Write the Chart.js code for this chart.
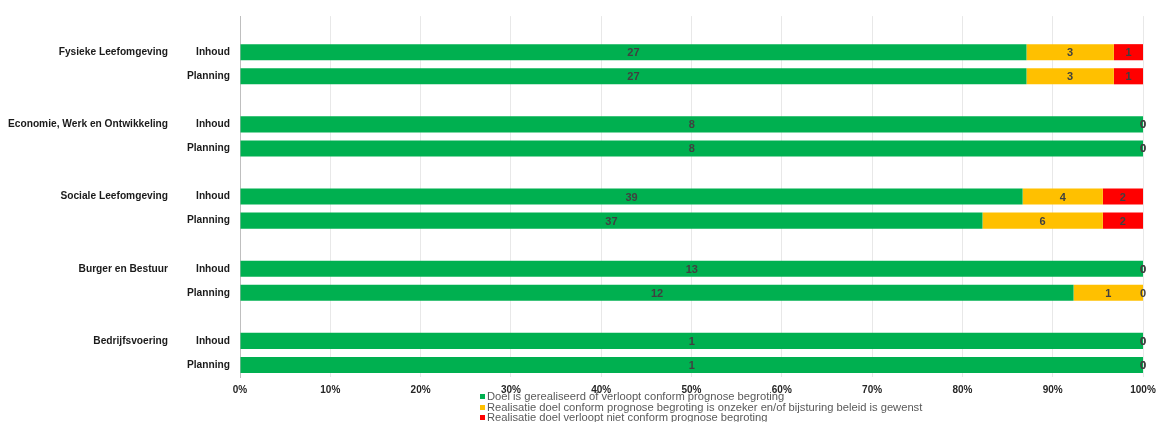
<!DOCTYPE html>
<html>
<head>
<meta charset="utf-8">
<script src="https://cdn.jsdelivr.net/npm/chart.js@4"></script>
<style>
  html, body { margin: 0; padding: 0; background: #fff; }
  #wrap { width: 1157px; height: 422px; }
</style>
</head>
<body>
<div id="wrap"><canvas id="myChart" width="1157" height="422"></canvas></div>
<script>
// rijen van boven naar beneden (lege rijen = ruimte tussen de groepen)
const groepLabels = ['', 'Fysieke Leefomgeving', '', '', 'Economie, Werk en Ontwikkeling', '', '', 'Sociale Leefomgeving', '', '', 'Burger en Bestuur', '', '', 'Bedrijfsvoering', ''];
const subLabels = ['', 'Inhoud', 'Planning', '', 'Inhoud', 'Planning', '', 'Inhoud', 'Planning', '', 'Inhoud', 'Planning', '', 'Inhoud', 'Planning'];

// aantallen doelen per status
const aantalGroen = [null, 27, 27, null, 8, 8, null, 39, 37, null, 13, 12, null, 1, 1];
const aantalGeel = [null, 3, 3, null, 0, 0, null, 4, 6, null, 0, 1, null, 0, 0];
const aantalRood = [null, 1, 1, null, 0, 0, null, 2, 2, null, 0, 0, null, 0, 0];

const legendaTeksten = [
    'Doel is gerealiseerd of verloopt conform prognose begroting',
    'Realisatie doel conform prognose begroting is onzeker en/of bijsturing beleid is gewenst',
    'Realisatie doel verloopt niet conform prognose begroting'
];
const kleuren = ['#00b050', '#ffc000', '#ff0000'];
const xTicks = [0, 10, 20, 30, 40, 50, 60, 70, 80, 90, 100];

// aandeel per rij (100% gestapeld)
function aandeel(reeks) {
    return reeks.map((v, i) => {
        if (v === null) return null;
        const totaal = aantalGroen[i] + aantalGeel[i] + aantalRood[i];
        return v / totaal * 100;
    });
}

const reeksen = [aantalGroen, aantalGeel, aantalRood];
const labelFont = { family: '"Liberation Sans", Arial, sans-serif', size: 10.2, weight: 'bold' };

// labels in het midden van elk segment; nullen aan het eind van de balk
const waardeLabels = {
    id: 'waardeLabels',
    afterDatasetsDraw(chart) {
        const ctx = chart.ctx;
        ctx.save();
        ctx.font = 'bold 11px "Liberation Sans", Arial, sans-serif';
        ctx.fillStyle = '#404040';
        ctx.textAlign = 'center';
        ctx.textBaseline = 'middle';
        chart.data.datasets.forEach((ds, di) => {
            const meta = chart.getDatasetMeta(di);
            meta.data.forEach((bar, i) => {
                const n = reeksen[di][i];
                if (n === null) return;
                const x = n === 0 ? bar.x : (bar.x + bar.base) / 2;
                ctx.fillText(String(n), x, bar.y + 1);
            });
        });
        ctx.restore();
    }
};

// legenda onder de as, drie regels onder elkaar
const legenda = {
    id: 'legenda',
    afterDraw(chart) {
        const ctx = chart.ctx;
        ctx.save();
        ctx.font = '11.2px "Liberation Sans", Arial, sans-serif';
        ctx.textBaseline = 'middle';
        ctx.textAlign = 'left';
        const ys = [396, 407, 417];
        legendaTeksten.forEach((t, i) => {
            ctx.fillStyle = kleuren[i];
            ctx.fillRect(480, ys[i] - 2, 5, 5);
            ctx.fillStyle = '#595959';
            ctx.fillText(t, 487, ys[i] + 1);
        });
        ctx.restore();
    }
};

const ctx = document.getElementById('myChart').getContext('2d');
const myChart = new Chart(ctx, {
    type: 'bar',
    data: {
        labels: subLabels,
        datasets: legendaTeksten.map((t, i) => ({
            label: t,
            data: aandeel(reeksen[i]),
            backgroundColor: kleuren[i],
            borderWidth: 0,
            categoryPercentage: 1,
            barPercentage: 0.67
        }))
    },
    options: {
        indexAxis: 'y',
        responsive: false,
        animation: false,
        layout: { padding: { top: 16, right: 14, left: 0, bottom: 0 } },
        plugins: {
            legend: { display: false },
            tooltip: { enabled: false }
        },
        scales: {
            x: {
                stacked: true,
                min: 0,
                max: 100,
                afterBuildTicks(scale) { scale.ticks = xTicks.map(v => ({ value: v })); },
                afterFit(scale) {
                    scale.height = 45;
                    scale.paddingLeft = 0;
                    scale.paddingRight = 0;
                },
                grid: { color: '#e8e8e8', drawTicks: false },
                border: { display: false },
                ticks: {
                    padding: 7,
                    color: '#262626',
                    font: { family: '"Liberation Sans", Arial, sans-serif', size: 10, weight: 'bold' },
                    callback: v => v + '%'
                }
            },
            y: {
                stacked: true,
                weight: 0,
                afterFit(scale) { scale.width = 62; },
                grid: { display: false, drawTicks: false },
                border: { display: true, color: '#bfbfbf' },
                ticks: {
                    padding: 10,
                    autoSkip: false,
                    color: '#1a1a1a',
                    font: labelFont
                }
            },
            y2: {
                type: 'category',
                axis: 'y',
                position: 'left',
                weight: 1,
                offset: true,
                labels: groepLabels,
                afterFit(scale) { scale.width = 178; },
                grid: { display: false, drawTicks: false },
                border: { display: false },
                ticks: {
                    padding: 10,
                    autoSkip: false,
                    color: '#1a1a1a',
                    font: labelFont
                }
            }
        }
    },
    plugins: [waardeLabels, legenda]
});
</script>
</body>
</html>
